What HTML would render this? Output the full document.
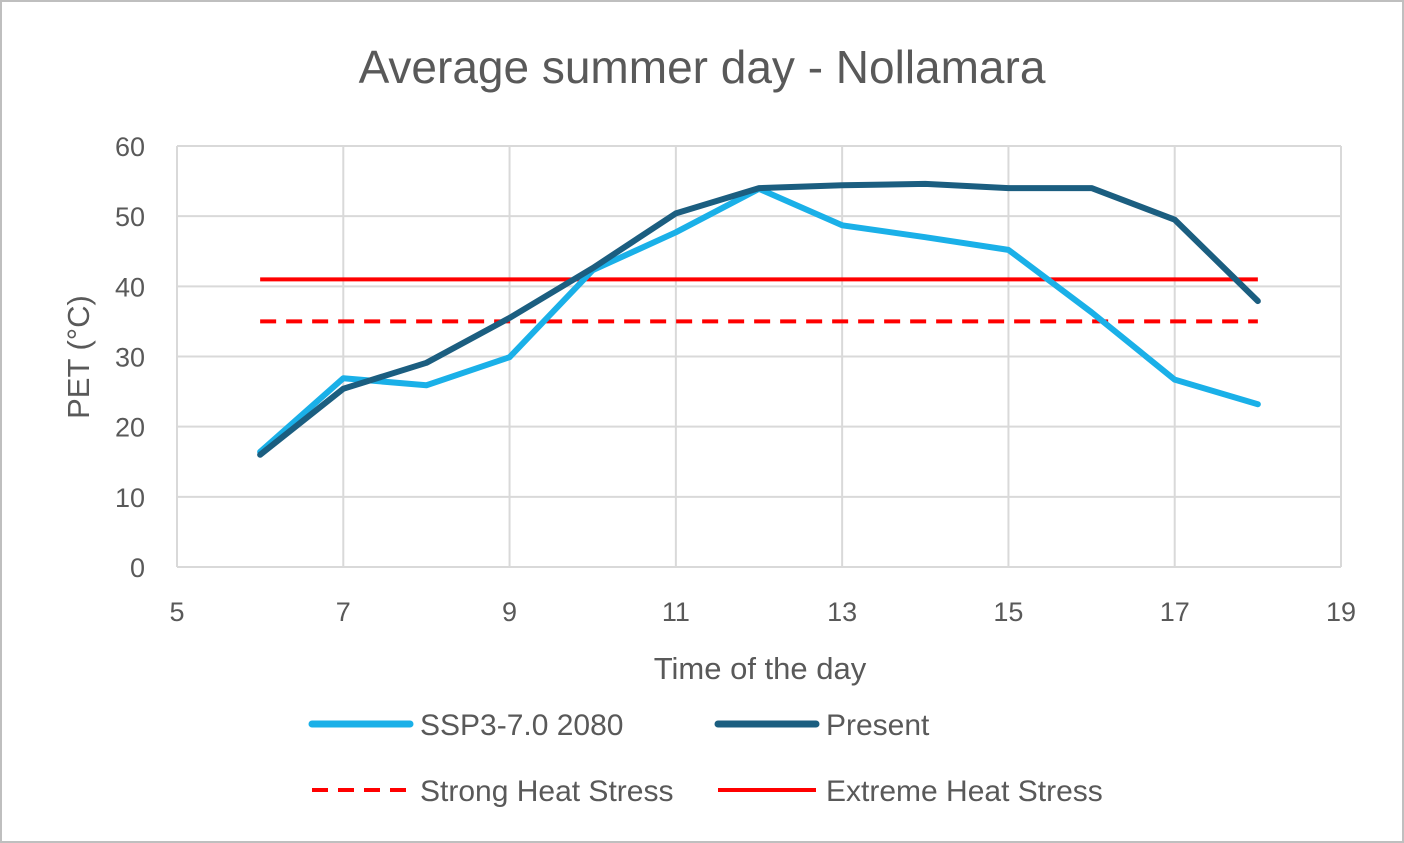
<!DOCTYPE html>
<html><head><meta charset="utf-8"><style>
html,body{margin:0;padding:0;background:#fff;}
svg{display:block;font-family:"Liberation Sans",sans-serif;}
</style></head><body>
<svg id="chart" width="1404" height="843">
<rect x="1" y="1" width="1402" height="841" fill="#fff" stroke="#bfbfbf" stroke-width="2"/>
<text x="702" y="83" text-anchor="middle" font-size="46" fill="#595959">Average summer day - Nollamara</text>
<g id="grid"></g><g id="series"></g><g id="ticks"></g>
<text x="760" y="679" text-anchor="middle" font-size="31" fill="#595959">Time of the day</text>
<text transform="translate(89,357) rotate(-90)" text-anchor="middle" font-size="31" fill="#595959">PET (°C)</text>
<g>
<g><line x1="312" y1="724" x2="410" y2="724" stroke="#1ab0e8" stroke-width="7" stroke-linecap="round"/><text x="420" y="735" font-size="30" fill="#595959">SSP3-7.0 2080</text></g>
<g><line x1="718" y1="724" x2="816" y2="724" stroke="#1b5e80" stroke-width="7" stroke-linecap="round"/><text x="826" y="735" font-size="30" fill="#595959">Present</text></g>
<g><line x1="312" y1="790" x2="410" y2="790" stroke="#ff0000" stroke-width="4" stroke-dasharray="16,10"/><text x="420" y="801" font-size="30" fill="#595959">Strong Heat Stress</text></g>
<g><line x1="718" y1="790" x2="816" y2="790" stroke="#ff0000" stroke-width="4"/><text x="826" y="801" font-size="30" fill="#595959">Extreme Heat Stress</text></g>
</g>
</svg>
<script>
const hours=[6,7,8,9,10,11,12,13,14,15,16,17,18];
const ssp=[16.4,26.9,25.9,29.9,42.3,47.7,53.9,48.7,47,45.2,36.3,26.7,23.2];
const present=[16,25.4,29.1,35.5,42.6,50.4,54,54.4,54.6,54,54,49.5,37.9];
const strongThreshold=35;
const extremeThreshold=41;
const xTicks=[5,7,9,11,13,15,17,19];
const yTicks=[0,10,20,30,40,50,60];
const NS="http://www.w3.org/2000/svg";
const X=v=>177+(v-5)*(1341-177)/14;
const Y=v=>567-v*(567-146)/60;
function mk(tag,attrs,parent){const e=document.createElementNS(NS,tag);for(const k in attrs)e.setAttribute(k,attrs[k]);document.getElementById(parent).appendChild(e);return e;}
xTicks.forEach(t=>{
 const l=mk('line',{x1:X(t),x2:X(t),y1:Y(60),y2:Y(0),stroke:'#d9d9d9','stroke-width':2},'grid');
 
 
 const tx=mk('text',{x:X(t),y:621,'text-anchor':'middle','font-size':27,fill:'#595959'},'ticks');tx.textContent=t;
 
 
});
yTicks.forEach(t=>{
 const l=mk('line',{x1:X(5),x2:X(19),y1:Y(t),y2:Y(t),stroke:'#d9d9d9','stroke-width':2},'grid');
 
 
 const tx=mk('text',{x:145,y:Y(t)+10,'text-anchor':'end','font-size':27,fill:'#595959'},'ticks');tx.textContent=t;
 
 
});
const s1=mk('line',{x1:X(hours[0]),x2:X(hours[hours.length-1]),y1:Y(strongThreshold),y2:Y(strongThreshold),stroke:'#ff0000','stroke-width':4,'stroke-dasharray':'16,10'},'series');


const s2=mk('line',{x1:X(hours[0]),x2:X(hours[hours.length-1]),y1:Y(extremeThreshold),y2:Y(extremeThreshold),stroke:'#ff0000','stroke-width':4},'series');


const pts=a=>a.map((v,i)=>X(hours[i])+','+Y(v)).join(' ');
const p1=mk('polyline',{points:pts(ssp),fill:'none',stroke:'#1ab0e8','stroke-width':6,'stroke-linejoin':'round','stroke-linecap':'round'},'series');


const p2=mk('polyline',{points:pts(present),fill:'none',stroke:'#1b5e80','stroke-width':6,'stroke-linejoin':'round','stroke-linecap':'round'},'series');


</script>
</body></html>
